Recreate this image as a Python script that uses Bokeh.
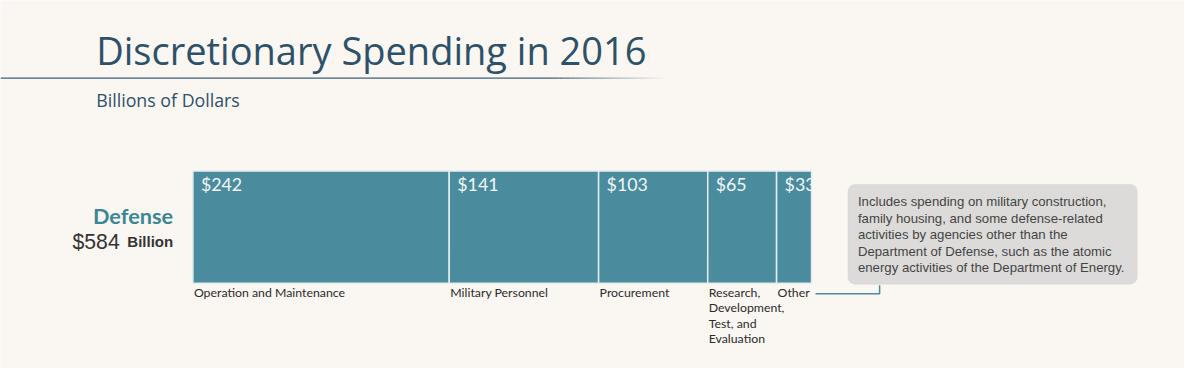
from bokeh.plotting import figure
from bokeh.models import Range1d, Label, BoxAnnotation, ColumnDataSource
from bokeh.core.properties import value
from bokeh.embed import file_html
from bokeh.resources import INLINE

categories = ["Operation and Maintenance", "Military Personnel", "Procurement",
              "Research,\nDevelopment,\nTest, and\nEvaluation", "Other"]
values = [242, 141, 103, 65, 33]
total_label = "$584"
note_lines = [
    "Includes spending on military construction,",
    "family housing, and some defense-related",
    "activities by agencies other than the",
    "Department of Defense, such as the atomic",
    "energy activities of the Department of Energy.",
]

BG = "#faf6f1"
TEAL = "#4a8b9e"
NAVY = "#2d5169"

# layout coordinates are in a 1200x384 design space mapped onto the figure
DW, DH = 1200, 384
W, H = 1184, 368
bar_x0, bar_x1 = 195, 822
total = sum(values)
scale = (bar_x1 - bar_x0) / total
x_start = -bar_x0 / scale
x_end = (DW - bar_x0) / scale

lefts, rights = [], []
acc = 0
for v in values:
    lefts.append(acc)
    acc += v
    rights.append(acc)

src = ColumnDataSource(dict(left=lefts, right=rights, cat=categories,
                            val=[f"${v}" for v in values]))

p = figure(width=W, height=H, output_backend="svg", toolbar_location=None,
           x_range=Range1d(x_start, x_end), y_range=Range1d(DH, 0),
           min_border=0, outline_line_color=None)
p.extra_x_ranges = {"px": Range1d(0, DW)}
p.axis.visible = False
p.grid.visible = False
p.background_fill_color = BG
p.border_fill_color = BG

# note box (underneath everything)
p.add_layout(BoxAnnotation(left=859, right=1152, top=192, bottom=296, x_range_name="px",
                           fill_color="#dcdbd9", fill_alpha=1, line_color="#c9c8c6",
                           line_width=1, border_radius=7, level="underlay"))

# bars
p.quad(left="left", right="right", top=178, bottom=295, source=src,
       fill_color=TEAL, line_color="#e4eef0", line_width=1.5)

p.text(x="left", y=191, text="val", source=src, x_offset=8,
       text_color="#f2f7f8", text_font=value("Lato"), text_font_size="17.8px",
       text_baseline="alphabetic")

p.text(x="left", y=297, text="cat", source=src, x_offset=1,
       text_color="#2b2b2b", text_font=value("Lato"), text_font_size="12.3px",
       text_baseline="top", text_line_height=1.02)

# title and rule
p.add_layout(Label(x=97, y=52, x_range_name="px", text="Discretionary Spending in 2016",
                   text_font="Open Sans", text_font_size="38px", text_color=NAVY,
                   text_baseline="alphabetic"))
p.segment(x0=[0], y0=[81], x1=[560], y1=[81], x_range_name="px",
          line_color="#3f6076", line_width=1.3)
n = 20
for i in range(n):
    xa = 560 + i * (675 - 560) / n
    xb = 560 + (i + 1) * (675 - 560) / n
    p.segment(x0=[xa], y0=[81], x1=[xb], y1=[81], x_range_name="px",
              line_color="#3f6076", line_width=1.3, line_alpha=1 - (i + 0.5) / n)
p.add_layout(Label(x=97, y=104, x_range_name="px", text="Billions of Dollars",
                   text_font="Open Sans", text_font_size="17.8px", text_color=NAVY,
                   text_baseline="alphabetic"))

# side labels
p.add_layout(Label(x=175, y=225, x_range_name="px", text="Defense",
                   text_font="Lato", text_font_size="21.7px", text_color="#3a8797",
                   text_font_style="bold", text_align="right", text_baseline="alphabetic"))
p.add_layout(Label(x=73, y=251, x_range_name="px", text=total_label,
                   text_font="Liberation Sans", text_font_size="21.2px", text_color="#333333",
                   text_align="left", text_baseline="alphabetic"))
p.add_layout(Label(x=175, y=251, x_range_name="px", text="Billion",
                   text_font="Liberation Sans", text_font_size="15px", text_color="#333333",
                   text_font_style="bold", text_align="right", text_baseline="alphabetic"))

# connector and note text
p.line(x=[826, 891, 891], y=[306, 306, 297], x_range_name="px",
       line_color=TEAL, line_width=1.5)
p.text(x=[869] * len(note_lines), y=[210 + 17.25 * i for i in range(len(note_lines))],
       text=note_lines, x_range_name="px", text_color="#444444",
       text_font=value("Liberation Sans"), text_font_size="13.2px",
       text_baseline="alphabetic")

html = file_html(p, INLINE)
html = html.replace("<body>", f'<body style="background:{BG}">', 1)
open("out.html", "w").write(html)
